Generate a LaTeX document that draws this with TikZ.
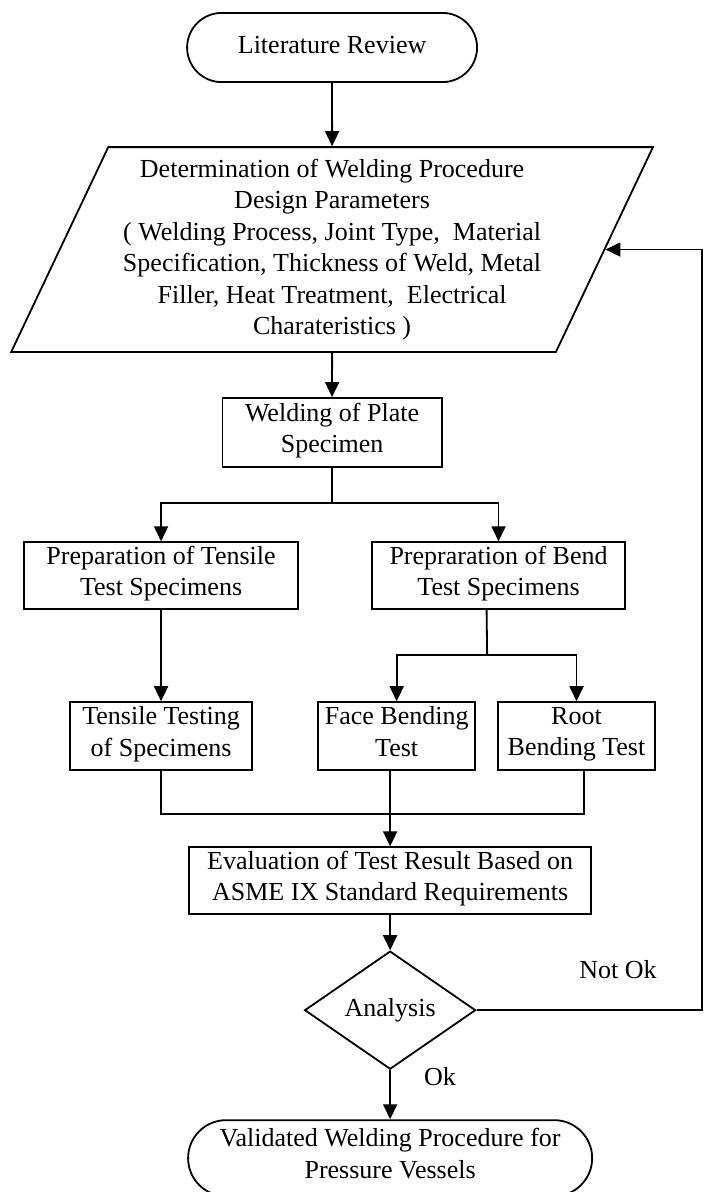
\documentclass[tikz,border=0pt]{standalone}
\usepackage{fontspec}
\setmainfont{Liberation Serif}
\usetikzlibrary{shapes, arrows.meta, calc, positioning}

\begin{document}
\begin{tikzpicture}[->,>={Triangle[length=15pt,width=14pt]},line width=1.8pt,font=\fontsize{26}{31.5}\selectfont]
	\tikzset{box/.style={draw,rectangle,align=center,inner sep=0pt,minimum height=2.35cm,execute at begin node=\strut,execute at end node=\strut}}
	\tikzset{term/.style={draw,rounded rectangle,align=center,inner sep=0pt,execute at begin node=\strut,execute at end node=\strut}}
	\tikzset{io/.style={draw,trapezium,trapezium left angle=63.43,trapezium right angle=116.57,trapezium stretches=true,align=center,inner sep=0pt}}
	\tikzset{decision/.style={draw,diamond,aspect=1.45,inner sep=0pt}}
	\useasboundingbox (0,0) rectangle (24.71,-41.89);
	\node[term, minimum width=10.19cm, minimum height=2.43cm] (lit) at (11.67,-1.67) {Literature Review};
	\node[io, minimum width=22.62cm, minimum height=7.20cm] (param) at (11.67,-8.77) {Determination of Welding Procedure\\Design Parameters\\( Welding Process, Joint Type, \ Material\\Specification, Thickness of Weld, Metal\\Filler, Heat Treatment, \ Electrical\\Charateristics )};
	\node[box, minimum width=7.70cm, minimum height=2.43cm] (plate) at (11.67,-15.20) {Welding of Plate\\Specimen};
	\node[box, minimum width=9.63cm] (tensP) at (5.66,-20.23) {Preparation of Tensile\\Test Specimens};
	\node[box, minimum width=8.89cm] (bendP) at (17.52,-20.23) {Prepraration of Bend\\Test Specimens};
	\node[box, minimum width=6.40cm, minimum height=2.39cm] (tensT) at (5.66,-25.87) {Tensile Testing\\of Specimens};
	\node[box, minimum width=5.52cm, minimum height=2.39cm] (face) at (13.94,-25.87) {Face Bending\\Test};
	\node[box, minimum width=5.52cm, minimum height=2.39cm] (root) at (20.26,-25.87) {Root\\Bending Test};
	\node[box, minimum width=14.13cm] (eval) at (13.71,-30.95) {Evaluation of Test Result Based on\\ASME IX Standard Requirements};
	\node[decision, minimum width=6.01cm, minimum height=4.15cm] (ana) at (13.71,-35.50) {Analysis};
	\node[term, minimum width=14.20cm, minimum height=2.67cm] (valid) at (13.71,-40.70) {Validated Welding Procedure for\\Pressure Vessels};
	\node (notok) at (21.72,-34.09) {Not Ok};
	\node (ok) at (15.46,-37.85) {Ok};

	\coordinate (s) at (11.67,-17.68);
	\coordinate (b) at (17.12,-23.02);
	\coordinate (m) at (13.71,-28.61);
	\coordinate (back) at (24.67,-35.50);

	\draw (lit.south) -- (param.north);
	\draw (param.south) -- (plate.north);
	\draw[-] (plate.south) -- (s);
	\draw (s) -| (tensP);
	\draw (s) -| (bendP);
	\draw (tensP.south) -- (tensT.north);
	\draw[-] ([xshift=-0.42cm]bendP.south) -- (b);
	\draw (b) -| (face);
	\draw (b) -| (root);
	\draw[-] (tensT.south) |- (m);
	\draw[-] ([xshift=0.26cm]root.south) |- (m);
	\draw (face.south -| m) -- (eval.north);
	\draw (eval.south) -- (ana.north);
	\draw (ana.south) -- (valid.north);
	\draw (ana.east) -- (back) |- (param.east);
\end{tikzpicture}
\end{document}
